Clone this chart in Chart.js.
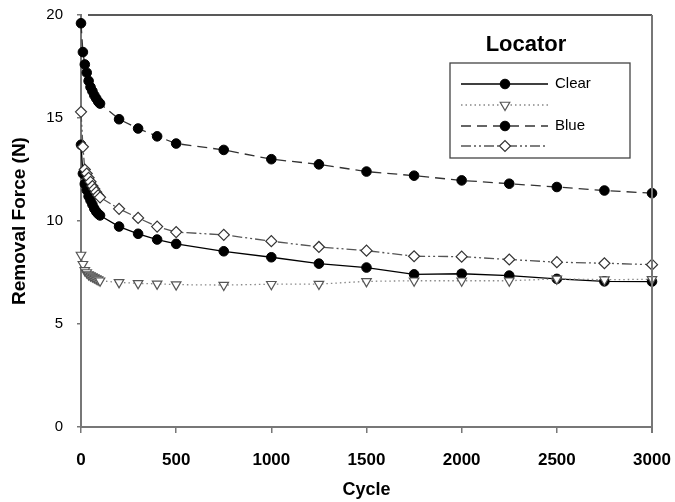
<!DOCTYPE html>
<html>
<head>
<meta charset="utf-8">
<script src="https://cdn.jsdelivr.net/npm/chart.js@4/dist/chart.umd.min.js"></script>
<style>
  html, body { margin: 0; padding: 0; background: #fff; }
  #wrap { width: 675px; height: 502px; }
</style>
</head>
<body>
<div id="wrap"><canvas id="chart"></canvas></div>
<script>
// cycles at which removal force was measured
const cycles = [0, 10, 20, 30, 40, 50, 60, 70, 80, 90, 100, 200, 300, 400, 500,
  750, 1000, 1250, 1500, 1750, 2000, 2250, 2500, 2750, 3000];

const seriesNames = ['Clear', '', 'Blue', ''];

const clearSolid = [13.7, 12.3, 11.8, 11.5, 11.2, 11.0, 10.8, 10.6, 10.45, 10.35, 10.27,
  9.73, 9.38, 9.10, 8.89, 8.53, 8.24, 7.93, 7.74, 7.41, 7.44, 7.35, 7.19, 7.07, 7.06];
const clearDotted = [8.35, 7.9, 7.6, 7.5, 7.4, 7.35, 7.3, 7.25, 7.2, 7.15, 7.1,
  7.02, 6.97, 6.95, 6.91, 6.89, 6.93, 6.94, 7.07, 7.10, 7.10, 7.10, 7.19, 7.15, 7.17];
const blueDashed = [19.6, 18.2, 17.6, 17.2, 16.8, 16.5, 16.3, 16.1, 15.95, 15.8, 15.7,
  14.94, 14.49, 14.11, 13.76, 13.45, 13.0, 12.75, 12.4, 12.2, 11.97, 11.81, 11.65, 11.48, 11.35];
const blueDashDot = [15.3, 13.6, 12.5, 12.3, 12.1, 11.9, 11.7, 11.55, 11.4, 11.25, 11.15,
  10.59, 10.15, 9.73, 9.46, 9.33, 9.02, 8.74, 8.56, 8.29, 8.27, 8.13, 8.0, 7.95, 7.88];

const xTicks = [0, 500, 1000, 1500, 2000, 2500, 3000];
const yTicks = [0, 5, 10, 15, 20];

const toPoints = vals => vals.map((v, i) => ({ x: cycles[i], y: v }));

const datasets = [
  {
    label: seriesNames[0], data: toPoints(clearSolid), order: 3,
    borderColor: '#000', borderWidth: 1.3, borderDash: [],
    pointStyle: 'circle', pointRadius: 4.8, pointRotation: 0,
    pointBackgroundColor: '#000', pointBorderColor: '#000', pointBorderWidth: 1
  },
  {
    label: seriesNames[1], data: toPoints(clearDotted), order: 1,
    borderColor: '#888', borderWidth: 1.3, borderDash: [1.5, 3],
    pointStyle: 'triangle', pointRadius: 5.5, pointRotation: 180,
    pointBackgroundColor: '#fff', pointBorderColor: '#555', pointBorderWidth: 1.2
  },
  {
    label: seriesNames[2], data: toPoints(blueDashed), order: 4,
    borderColor: '#333', borderWidth: 1.3, borderDash: [10, 6],
    pointStyle: 'circle', pointRadius: 4.8, pointRotation: 0,
    pointBackgroundColor: '#000', pointBorderColor: '#000', pointBorderWidth: 1
  },
  {
    label: seriesNames[3], data: toPoints(blueDashDot), order: 2,
    borderColor: '#555', borderWidth: 1.3, borderDash: [10, 3, 2, 3, 2, 3],
    pointStyle: 'rectRot', pointRadius: 5.5, pointRotation: 0,
    pointBackgroundColor: '#fff', pointBorderColor: '#333', pointBorderWidth: 1.2
  }
];
datasets.forEach(d => {
  d.fill = false;
  d.tension = 0;
  d.clip = false;
  d.pointHoverRadius = d.pointRadius;
});

// top + right frame lines
const framePlugin = {
  id: 'frame',
  afterDraw(chart) {
    const { ctx, chartArea: a } = chart;
    ctx.save();
    ctx.lineWidth = 1.5;
    ctx.strokeStyle = '#222';
    ctx.beginPath();
    ctx.moveTo(a.left + 7, a.top);
    ctx.lineTo(a.right, a.top);
    ctx.stroke();
    ctx.strokeStyle = '#777';
    ctx.lineWidth = 2;
    ctx.beginPath();
    ctx.moveTo(a.right, a.top);
    ctx.lineTo(a.right, a.bottom + 6);
    ctx.stroke();
    ctx.restore();
  }
};

// boxed legend with line + marker samples
const legendPlugin = {
  id: 'boxLegend',
  afterDraw(chart) {
    const ctx = chart.ctx;
    const box = { left: 450, top: 63, right: 630, bottom: 158 };
    ctx.save();
    ctx.fillStyle = '#000';
    ctx.font = 'bold 22px Arial, "Liberation Sans", sans-serif';
    ctx.textAlign = 'center';
    ctx.textBaseline = 'middle';
    ctx.fillText('Locator', 526, 45);

    ctx.strokeStyle = '#444';
    ctx.lineWidth = 1.3;
    ctx.strokeRect(box.left, box.top, box.right - box.left, box.bottom - box.top);

    const rows = [84, 105, 126, 146];
    chart.data.datasets.forEach((ds, i) => {
      const y = rows[i];
      ctx.save();
      ctx.strokeStyle = ds.borderColor;
      ctx.lineWidth = ds.borderWidth;
      ctx.setLineDash(ds.borderDash);
      ctx.beginPath();
      ctx.moveTo(461, y);
      ctx.lineTo(548, y);
      ctx.stroke();
      ctx.setLineDash([]);
      ctx.fillStyle = ds.pointBackgroundColor;
      ctx.strokeStyle = ds.pointBorderColor;
      ctx.lineWidth = ds.pointBorderWidth;
      Chart.helpers.drawPoint(ctx, {
        pointStyle: ds.pointStyle, radius: ds.pointRadius,
        rotation: ds.pointRotation, borderWidth: ds.pointBorderWidth
      }, 505, y);
      ctx.restore();
      if (ds.label) {
        ctx.fillStyle = '#000';
        ctx.font = '15px Arial, "Liberation Sans", sans-serif';
        ctx.textAlign = 'left';
        ctx.textBaseline = 'middle';
        ctx.fillText(ds.label, 555, y);
      }
    });
    ctx.restore();
  }
};

const font = 'Arial, "Liberation Sans", sans-serif';

new Chart(document.getElementById('chart'), {
  type: 'line',
  data: { datasets },
  options: {
    responsive: true,
    maintainAspectRatio: false,
    animation: false,
    layout: { padding: { top: 15, right: 23, left: 0, bottom: 0 } },
    plugins: { legend: { display: false }, tooltip: { enabled: false } },
    scales: {
      x: {
        type: 'linear', min: 0, max: 3000,
        afterBuildTicks: s => { s.ticks = xTicks.map(v => ({ value: v })); },
        afterFit: s => { s.height = 75; s.paddingLeft = 0; s.paddingRight = 0; },
        grid: { drawOnChartArea: false, drawTicks: true, tickLength: 6, color: '#777', lineWidth: 1.5 },
        border: { display: true, color: '#777', width: 2 },
        ticks: {
          color: '#000', padding: 17, maxRotation: 0, autoSkip: false,
          callback: v => String(v),
          font: { family: font, size: 17, weight: 'bold' }
        },
        title: {
          display: true, text: 'Cycle', color: '#000',
          padding: { top: 0, bottom: 1 },
          font: { family: font, size: 18, weight: 'bold' }
        }
      },
      y: {
        type: 'linear', min: 0, max: 20,
        afterBuildTicks: s => { s.ticks = yTicks.map(v => ({ value: v })); },
        afterFit: s => { s.width = 81; s.paddingTop = 0; s.paddingBottom = 0; },
        grid: { drawOnChartArea: false, drawTicks: true, tickLength: 4, color: '#777', lineWidth: 1.5 },
        border: { display: true, color: '#777', width: 2 },
        ticks: {
          color: '#000', padding: 14,
          callback: v => String(v),
          font: { family: font, size: 15 }
        },
        title: {
          display: true, text: 'Removal Force (N)', color: '#000',
          padding: { top: 8, bottom: 0 },
          font: { family: font, size: 19, weight: 'bold' }
        }
      }
    }
  },
  plugins: [framePlugin, legendPlugin]
});
</script>
</body>
</html>
